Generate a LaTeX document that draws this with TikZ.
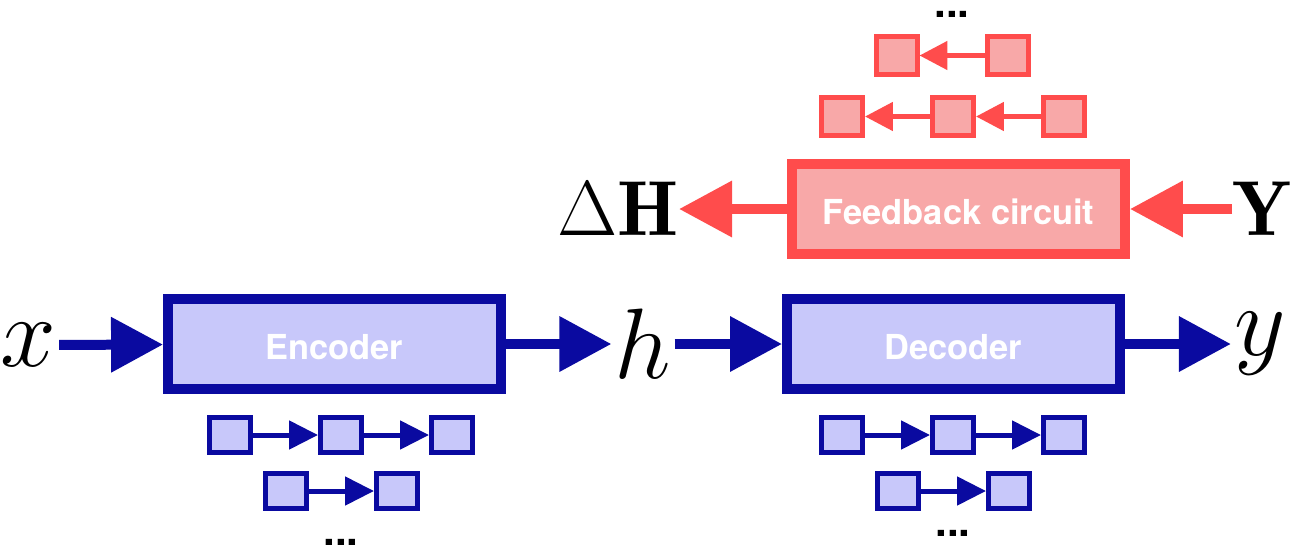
\documentclass[tikz,border=0pt]{standalone}
\usepackage{fix-cm}
\usepackage{fontspec}
\setsansfont{TeX Gyre Heros}
\usetikzlibrary{arrows.meta}

\definecolor{nnblue}{RGB}{10,10,160}
\definecolor{nnlight}{RGB}{200,200,250}
\definecolor{fbred}{RGB}{255,76,76}
\definecolor{fblight}{RGB}{248,168,168}

\tikzset{
  block/.style={draw, line width=0.2cm, minimum width=6.66cm, minimum height=1.8cm,
    inner sep=0pt, text height=0.62cm, text=white,
    font=\sffamily\bfseries\fontsize{19.6}{23}\selectfont},
  blueblock/.style={block, draw=nnblue, fill=nnlight},
  redblock/.style={block, draw=fbred, fill=fblight},
  bluecell/.style={draw=nnblue, fill=nnlight, line width=0.1cm,
    minimum width=0.82cm, minimum height=0.7cm, inner sep=0pt},
  redcell/.style={draw=fbred, fill=fblight, line width=0.1cm,
    minimum width=0.82cm, minimum height=0.76cm, inner sep=0pt},
  bigblue/.style={nnblue, line width=0.2cm, -{Triangle[length=1.04cm, width=1.06cm]}},
  bigred/.style={fbred, line width=0.2cm, -{Triangle[length=1.06cm, width=1.08cm]}},
  smallblue/.style={nnblue, line width=0.1cm, -{Triangle[length=0.58cm, width=0.56cm]}},
  smallred/.style={fbred, line width=0.1cm, -{Triangle[length=0.56cm, width=0.56cm]}},
  var/.style={inner sep=0.06cm, font=\fontsize{57}{60}\selectfont},
  bigvar/.style={inner sep=0pt, font=\fontsize{44.4}{48}\selectfont},
  dots/.style={inner sep=0pt, font=\sffamily\bfseries\fontsize{24}{26}\selectfont}
}

\begin{document}
\begin{tikzpicture}[x=0.02cm, y=-0.02cm]
  \useasboundingbox (0,0) rectangle (1296,555);

  % Encoder / decoder chain
  \node[var] (xin) at (28,345) {$x$};
  \node[blueblock] (enc) at (334.5,344) {Encoder};
  \node[var] (hid) at (643,344) {$h$};
  \node[blueblock] (dec) at (953.5,344) {Decoder};
  \node[var] (yout) at (1260,344) {$y$};
  \draw[bigblue] (xin) -- (enc);
  \draw[bigblue] (enc) -- (hid);
  \draw[bigblue] (hid) -- (dec);
  \draw[bigblue] (dec) -- (yout);

  % Feedback circuit
  \node[redblock] (fbc) at (958.5,209) {Feedback circuit};
  \node[bigvar] (dH) at (618,209) {$\Delta\mathbf{H}$};
  \node[bigvar] (Yin) at (1262,209) {$\mathbf{Y}$};
  \draw[bigred] (fbc) -- (dH);
  \draw[bigred] (Yin) -- (fbc);

  % Cells under the encoder
  \foreach \i/\cx in {1/230, 2/341, 3/452}
    \node[bluecell] (ea\i) at (\cx,435) {};
  \foreach \i/\cx in {1/286, 2/397}
    \node[bluecell] (eb\i) at (\cx,491) {};
  \draw[smallblue] (ea1) -- (ea2);
  \draw[smallblue] (ea2) -- (ea3);
  \draw[smallblue] (eb1) -- (eb2);
  \node[dots] (edots) at (341,542) {...};

  % Cells under the decoder
  \foreach \i/\cx in {1/842, 2/953, 3/1064}
    \node[bluecell] (da\i) at (\cx,435) {};
  \foreach \i/\cx in {1/898, 2/1009}
    \node[bluecell] (db\i) at (\cx,491) {};
  \draw[smallblue] (da1) -- (da2);
  \draw[smallblue] (da2) -- (da3);
  \draw[smallblue] (db1) -- (db2);
  \node[dots] (ddots) at (953,533) {...};

  % Cells above the feedback circuit (right to left)
  \foreach \i/\cx in {1/842, 2/953, 3/1064}
    \node[redcell] (ra\i) at (\cx,116.5) {};
  \foreach \i/\cx in {1/896.5, 2/1008}
    \node[redcell] (rb\i) at (\cx,55.5) {};
  \draw[smallred] (ra3) -- (ra2);
  \draw[smallred] (ra2) -- (ra1);
  \draw[smallred] (rb2) -- (rb1);
  \node[dots] (rdots) at (952,14) {...};
\end{tikzpicture}
\end{document}
